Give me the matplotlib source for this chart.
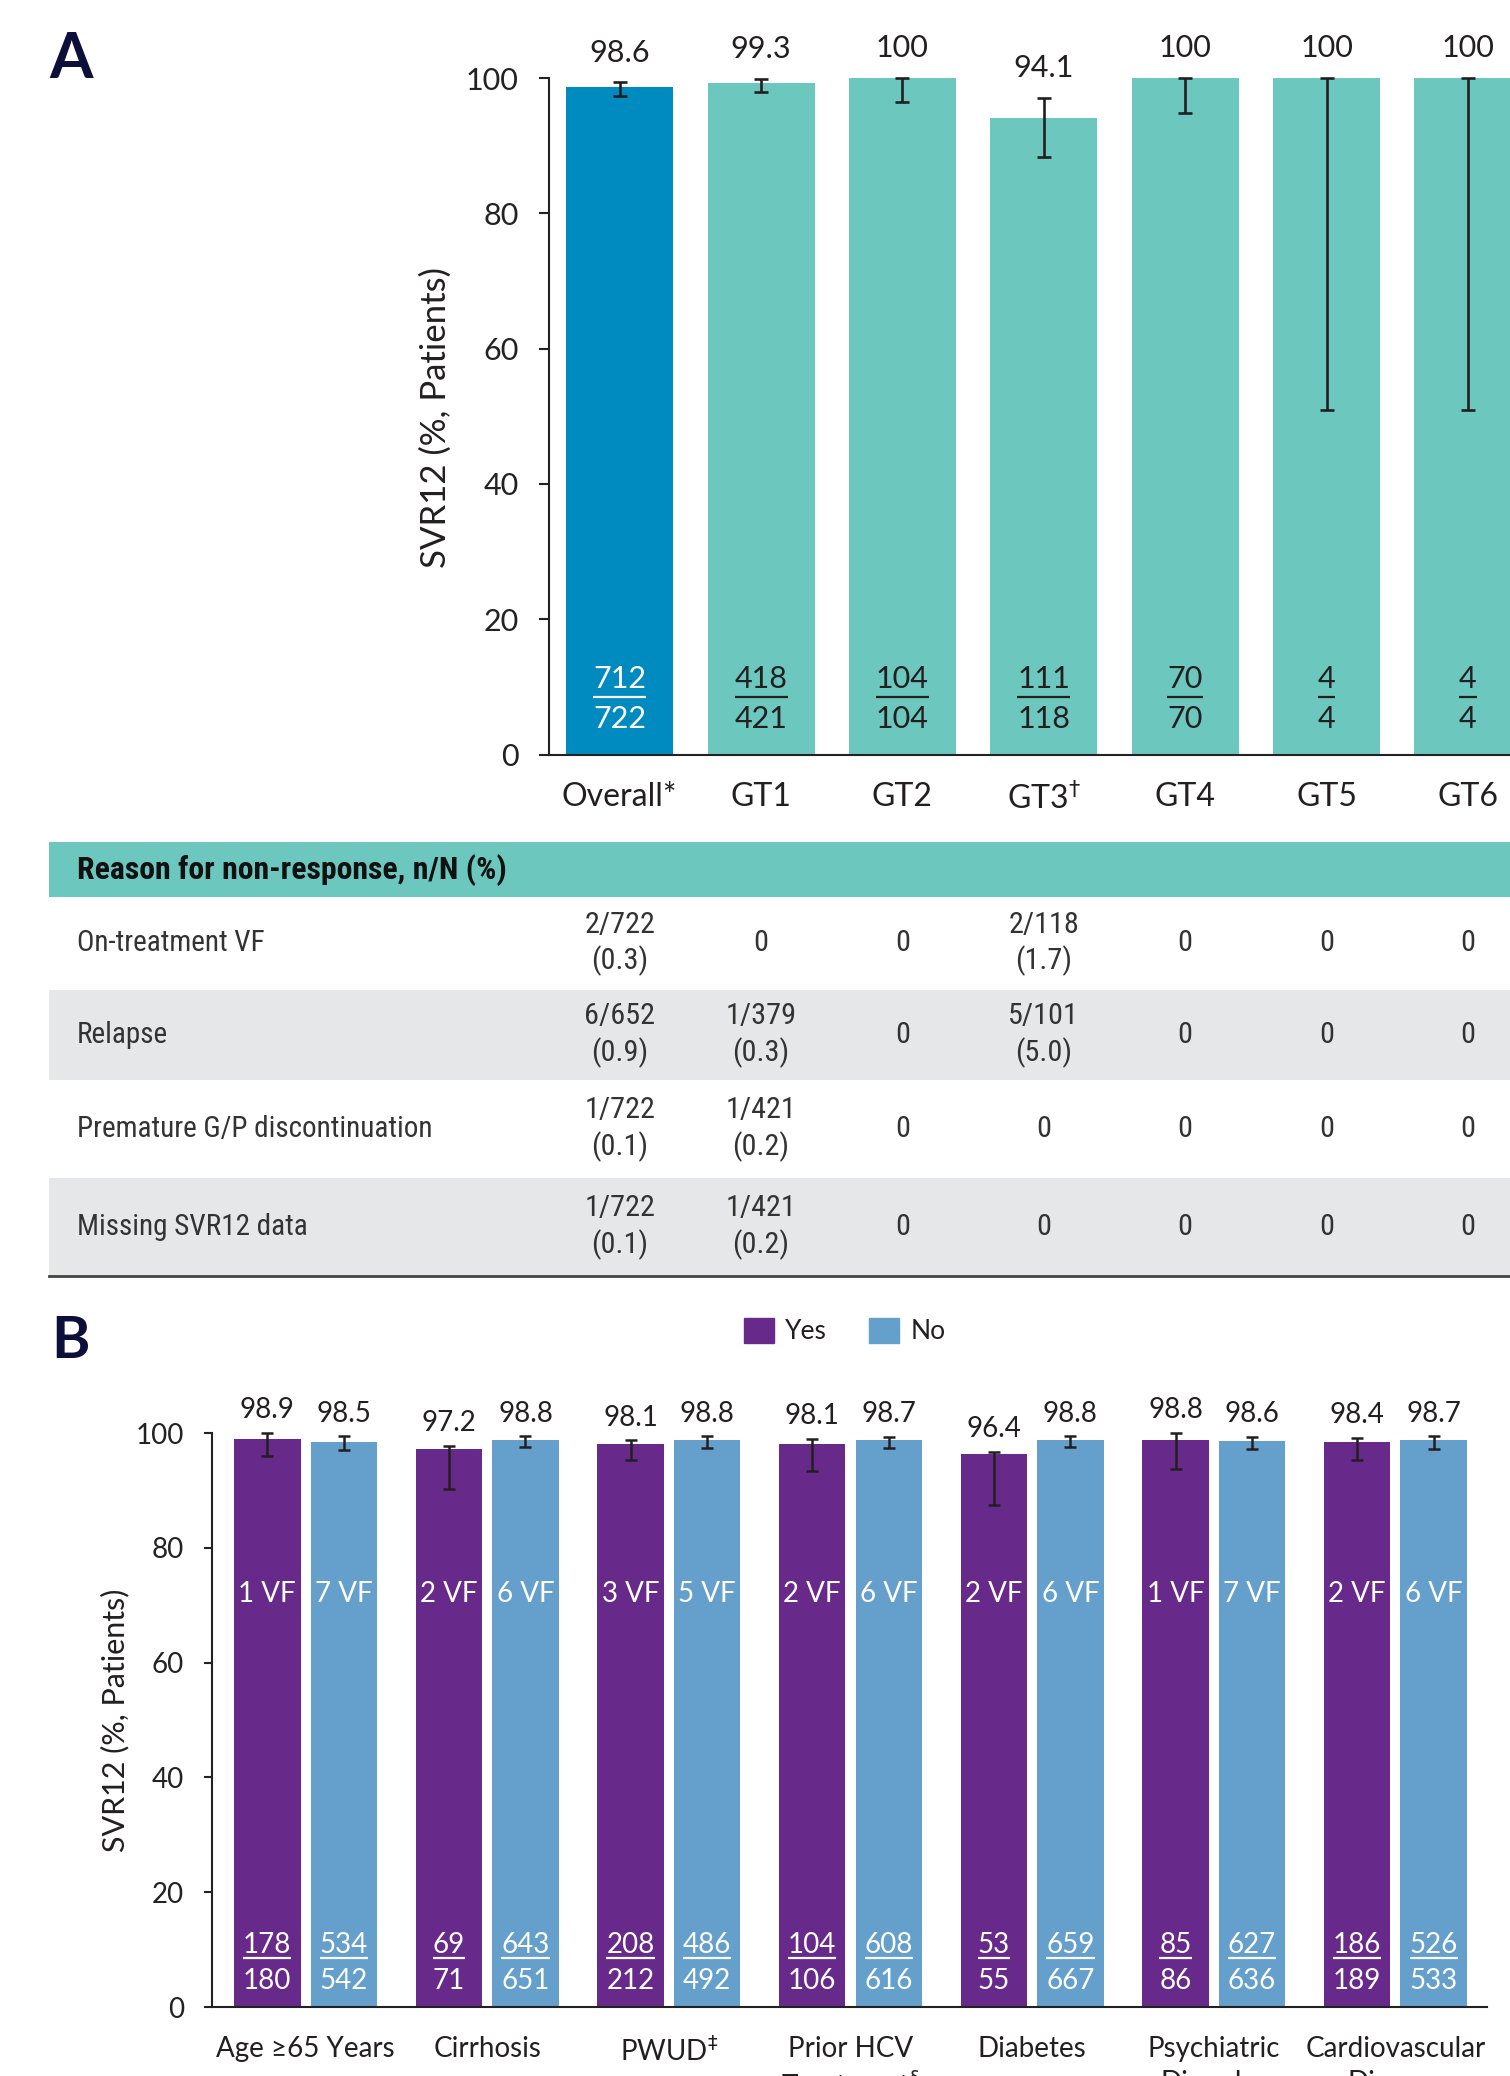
import os
import matplotlib
matplotlib.use("Agg")
import matplotlib.pyplot as plt
from matplotlib import font_manager as fm
from matplotlib.font_manager import FontProperties
from matplotlib.patches import Patch, Rectangle

plt.rcParams['font.family'] = ['Lato', 'DejaVu Sans']

W, H = 1510, 2076

def fx(px):
    return px / W

def fy(py):
    return 1 - py / H

# ---- data: panel A (by genotype)
genotypes = ['Overall*', 'GT1', 'GT2', r'GT3$^{\dagger}$', 'GT4', 'GT5', 'GT6']
svr_a = [98.6, 99.3, 100, 94.1, 100, 100, 100]
ci_lo_a = [97.4, 97.9, 96.4, 88.3, 94.9, 51.0, 51.0]
ci_hi_a = [99.35, 99.85, 100, 97.1, 100, 100, 100]
n_a = [712, 418, 104, 111, 70, 4, 4]
N_a = [722, 421, 104, 118, 70, 4, 4]

# ---- data: reasons for non-response table
reasons = ['On-treatment VF', 'Relapse', 'Premature G/P discontinuation', 'Missing SVR12 data']
reason_cells = [
    ['2/722\n(0.3)', '0', '0', '2/118\n(1.7)', '0', '0', '0'],
    ['6/652\n(0.9)', '1/379\n(0.3)', '0', '5/101\n(5.0)', '0', '0', '0'],
    ['1/722\n(0.1)', '1/421\n(0.2)', '0', '0', '0', '0', '0'],
    ['1/722\n(0.1)', '1/421\n(0.2)', '0', '0', '0', '0', '0'],
]

# ---- data: panel B (subgroups, yes / no)
subgroups = ['Age \u226565 Years', 'Cirrhosis', r'PWUD$^{\ddagger}$', 'Prior HCV\nTreatment$^{\\S}$',
             'Diabetes', 'Psychiatric\nDisorder', 'Cardiovascular\nDisease']
yes_svr = [98.9, 97.2, 98.1, 98.1, 96.4, 98.8, 98.4]
no_svr = [98.5, 98.8, 98.8, 98.7, 98.8, 98.6, 98.7]
yes_lo = [96.0, 90.3, 95.25, 93.3, 87.5, 93.7, 95.3]
yes_hi = [100.0, 97.7, 98.7, 98.9, 96.7, 100.0, 99.2]
no_lo = [97.1, 97.5, 97.4, 97.4, 97.6, 97.2, 97.2]
no_hi = [99.4, 99.4, 99.4, 99.3, 99.4, 99.3, 99.4]
yes_vf = [1, 2, 3, 2, 2, 1, 2]
no_vf = [7, 6, 5, 6, 6, 7, 6]
yes_n = [178, 69, 208, 104, 53, 85, 186]
yes_N = [180, 71, 212, 106, 55, 86, 189]
no_n = [534, 643, 486, 608, 659, 627, 526]
no_N = [542, 651, 492, 616, 667, 636, 533]

c_overall = '#008BC0'
c_gt = '#6CC7BE'
c_yes = '#682A8A'
c_no = '#64A0CB'
c_text = '#231F20'
c_axis = '#222222'


def narrow_font(bold):
    # look for a condensed face for the table text
    want = 700 if bold else 400
    prefs = ['notosans-extracondensed', 'notosans-condensed', 'liberationsansnarrow',
             'robotocondensed', 'dejavusanscondensed']
    for key in prefs:
        for f in fm.fontManager.ttflist:
            base = os.path.basename(f.fname).lower().replace('_', '').replace(' ', '')
            if not base.startswith(key) or 'italic' in base or 'oblique' in base:
                continue
            w = f.weight if isinstance(f.weight, int) else fm.weight_dict.get(f.weight, 400)
            if w == want:
                return FontProperties(fname=f.fname)
    return FontProperties(family='DejaVu Sans', stretch='condensed', weight='bold' if bold else 'normal')


fig = plt.figure(figsize=(15.1, 20.76), dpi=100)
renderer = fig.canvas.get_renderer()


def fit_size(prop, s, target_px):
    p = prop.copy()
    p.set_size(20)
    w = renderer.get_text_width_height_descent(s, p, ismath=False)[0]
    p.set_size(20 * target_px / w)
    return p


underlines = []  # (text, ax, y, color)

# ================= Panel A =================
axa = fig.add_axes([fx(549), fy(754.6), 1 - fx(549), (754.6 - 78) / H])
xa = list(range(len(genotypes)))
cols = [c_overall] + [c_gt] * (len(genotypes) - 1)
axa.bar(xa, svr_a, width=0.757, color=cols, zorder=2)
lo = [v - l for v, l in zip(svr_a, ci_lo_a)]
hi = [h - v for v, h in zip(svr_a, ci_hi_a)]
eb = axa.errorbar(xa, svr_a, yerr=[lo, hi], fmt='none', ecolor=c_text, elinewidth=1.9,
                  capsize=5, capthick=1.9, zorder=3)
for a in list(eb[1]) + list(eb[2]):
    a.set_clip_on(False)
axa.set_xlim(-0.5, 6.298)
axa.set_ylim(0, 100)
for i, v in enumerate(svr_a):
    axa.annotate(f'{v:g}', (i, ci_hi_a[i]), xytext=(0, 21.5), textcoords='offset points',
                 ha='center', va='center', fontsize=22, color=c_text, annotation_clip=False)
    tc = 'white' if i == 0 else c_text
    t = axa.text(i, 11.2, str(n_a[i]), ha='center', va='center', fontsize=22, color=tc)
    axa.text(i, 5.3, str(N_a[i]), ha='center', va='center', fontsize=22, color=tc)
    underlines.append((t, axa, 8.5, tc))
axa.set_xticks(xa)
axa.set_xticklabels(genotypes, fontsize=23, color=c_text)
axa.set_yticks([0, 20, 40, 60, 80, 100])
axa.tick_params(axis='x', length=0, pad=20)
axa.tick_params(axis='y', length=7, width=1.5, pad=15, labelsize=22, colors=c_axis)
for s in ['top', 'right']:
    axa.spines[s].set_visible(False)
for s in ['left', 'bottom']:
    axa.spines[s].set_linewidth(1.5)
    axa.spines[s].set_color(c_axis)
fig.text(fx(436), fy(417), 'SVR12 (%, Patients)', rotation=90, ha='center', va='center',
         fontsize=25, color=c_text)
fig.text(fx(71), fy(60), 'A', ha='center', va='center', fontsize=45, fontweight='bold', color='#0B0F3A')

# ================= Table =================
p_head = fit_size(narrow_font(True), 'Reason for non-response, n/N (%)', 430)
p_row = fit_size(narrow_font(False), 'Premature G/P discontinuation', 355)
p_val = fit_size(narrow_font(False), '2/722', 71)

axt = fig.add_axes([0, fy(1282), 1, (1282 - 836) / H])
axt.set_xlim(0, W)
axt.set_ylim(1282, 836)
axt.axis('off')
axt.add_patch(Rectangle((49, 842), W - 49, 897 - 842, color=c_gt, lw=0))
axt.text(77, 870, 'Reason for non-response, n/N (%)', ha='left', va='center',
         fontproperties=p_head, color='#111111')
row_edges = [897, 990, 1080, 1178, 1276]
col_x = [axa.transData.transform((i, 0))[0] for i in xa]
for r, label in enumerate(reasons):
    y0, y1 = row_edges[r], row_edges[r + 1]
    if r % 2 == 1:
        axt.add_patch(Rectangle((49, y0), W - 49, y1 - y0, color='#E6E7E9', lw=0))
    yc = (y0 + y1) / 2
    axt.text(77, yc, label, ha='left', va='center', fontproperties=p_row, color='#333333')
    for cx, cell in zip(col_x, reason_cells[r]):
        axt.text(cx, yc, cell, ha='center', va='center', fontproperties=p_val,
                 color='#333333', linespacing=1.3, multialignment='center')
axt.plot([49, W], [1276, 1276], color='#444444', lw=2)

# ================= Panel B =================
axb = fig.add_axes([fx(212), fy(2007), fx(1487) - fx(212), (2007 - 1433) / H])
xb = list(range(len(subgroups)))
off = 0.2106
bw = 0.366
xy = [x - off for x in xb]
xn = [x + off for x in xb]
axb.bar(xy, yes_svr, width=bw, color=c_yes, zorder=2)
axb.bar(xn, no_svr, width=bw, color=c_no, zorder=2)
for xs, vals, los, his in [(xy, yes_svr, yes_lo, yes_hi), (xn, no_svr, no_lo, no_hi)]:
    e = axb.errorbar(xs, vals, yerr=[[v - l for v, l in zip(vals, los)], [h - v for v, h in zip(vals, his)]],
                     fmt='none', ecolor=c_text, elinewidth=1.8, capsize=4, capthick=1.8, zorder=3)
    for a in list(e[1]) + list(e[2]):
        a.set_clip_on(False)
axb.set_xlim(-0.515, 6.504)
axb.set_ylim(0, 100)
for xs, vals, his, vfs, ns, Ns in [(xy, yes_svr, yes_hi, yes_vf, yes_n, yes_N),
                                  (xn, no_svr, no_hi, no_vf, no_n, no_N)]:
    for i in range(len(xs)):
        axb.annotate(f'{vals[i]:g}', (xs[i], his[i]), xytext=(0, 16.5), textcoords='offset points',
                     ha='center', va='center', fontsize=20, color=c_text, annotation_clip=False)
        axb.text(xs[i], 72, f'{vfs[i]} VF', ha='center', va='center', fontsize=20, color='white')
        t = axb.text(xs[i], 10.8, str(ns[i]), ha='center', va='center', fontsize=20, color='white')
        axb.text(xs[i], 4.6, str(Ns[i]), ha='center', va='center', fontsize=20, color='white')
        underlines.append((t, axb, 8.6, 'white'))
axb.set_xticks(xb)
axb.set_xticklabels(subgroups, fontsize=20, color=c_text, linespacing=1.35)
axb.set_yticks([0, 20, 40, 60, 80, 100])
axb.tick_params(axis='x', length=0, pad=21)
axb.tick_params(axis='y', length=6, width=1.5, pad=14, labelsize=20, colors=c_axis)
for s in ['top', 'right']:
    axb.spines[s].set_visible(False)
for s in ['left', 'bottom']:
    axb.spines[s].set_linewidth(1.5)
    axb.spines[s].set_color(c_axis)
fig.text(fx(115), fy(1720), 'SVR12 (%, Patients)', rotation=90, ha='center', va='center',
         fontsize=22, color=c_text)
fig.text(fx(70), fy(1342), 'B', ha='center', va='center', fontsize=42, fontweight='bold', color='#0B0F3A')
fig.legend(handles=[Patch(color=c_yes), Patch(color=c_no)], labels=['Yes', 'No'], loc='center',
           bbox_to_anchor=(fx(845), fy(1331)), ncol=2, frameon=False, fontsize=19,
           handlelength=1.1, handleheight=1.1, handletextpad=0.45, columnspacing=1.6,
           labelcolor=c_text)

# underline numerators of the n/N fractions
fig.canvas.draw()
for t, ax, yl, c in underlines:
    bb = t.get_window_extent()
    inv = ax.transData.inverted()
    x0 = inv.transform((bb.x0, 0))[0]
    x1 = inv.transform((bb.x1, 0))[0]
    ax.plot([x0, x1], [yl, yl], color=c, lw=1.6, solid_capstyle='butt', zorder=4)

fig.savefig('out.png', dpi=100)
